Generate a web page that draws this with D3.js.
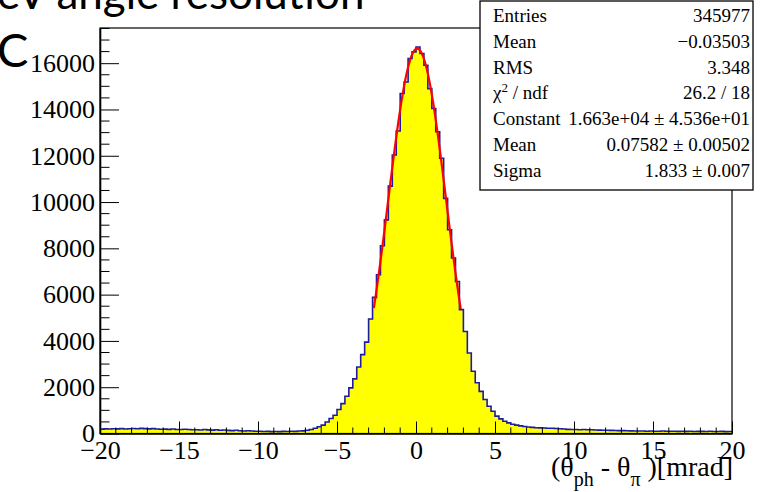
<!DOCTYPE html>
<html><head><meta charset="utf-8">
<script src="https://cdn.jsdelivr.net/npm/d3@7"></script>
<style>body{margin:0;background:#fff;overflow:hidden;} svg{display:block;}</style>
</head><body>
<script>
// ---- data ----
const binRange = [-20, 20];
const binWidth = 0.25;
const leftTail = [190,200,195,205, 200,210,195,205, 215,205,220,210, 200,210,195,185,
  190,180,195,170, 175,185,170,160, 165,150,170,155, 145,160,140,150,
  135,125,140,120, 110,120,105,100, 95,85,90,80, 85,80,90,85, 95,90,105,115, 140,175,230,290];
const core = [360,500,650,790, 1035,1290,1610,1970, 2360,2870,3410,3950, 4950,5880,6860,8110,
  9230,10690,12030,13070, 14690,15190,16200,16490,
  16700,16420,15910,14900, 14040,13040,11890,10160, 8800,7580,6570,5350,
  4410,3480,2690,2190, 1820,1470,1180,960, 750,630,530,460];
const rightTail = [400,360,330,300, 280,265,250,245, 240,230,225,215, 205,195,180,175,
  170,165,175,160, 165,150,145,140, 140,135,130,125, 125,120,115,110,
  110,105,100,105, 100,95,105,95, 95,100,90,95, 90,95,85,90, 90,85,95,85, 85,90,80,85];
const counts = leftTail.concat(core, rightTail);
const xMajorTicks = [-20,-15,-10,-5,0,5,10,15,20];
const yMajorTicks = [0,2000,4000,6000,8000,10000,12000,14000,16000];
const yMax = 17520;
const statLabels = ["Entries","Mean","RMS","χ2 / ndf","Constant","Mean","Sigma"];
const statValues = ["345977","\u22120.03503","3.348","26.2 / 18","1.663e+04 \u00b1 4.536e+01","0.07582 \u00b1 0.00502","1.833 \u00b1 0.007"];
const fitParams = [16630, 0.07582, 1.833]; // constant, mean, sigma
const fitRange = [-2.67, 2.83];

// ---- drawing ----
const W = 761, H = 492;
const svg = d3.select("body").append("svg").attr("width", W).attr("height", H);
const x = d3.scaleLinear().domain(binRange).range([100, 732]);
const y = d3.scaleLinear().domain([0, yMax]).range([433.5, 28]);
const serif = "'Liberation Serif','Times New Roman',serif";

// title fragments (cut off)
svg.append("text").attr("x", -3).attr("y", 9).attr("font-family", "Lato, 'DejaVu Sans', sans-serif")
  .attr("font-size", 44).attr("fill", "#000").text("eV angle resolution");
svg.append("text").attr("x", -3).attr("y", 67).attr("font-family", "Lato, 'DejaVu Sans', sans-serif")
  .attr("font-size", 47).attr("fill", "#000").text("C");

// histogram
const bins = counts.map((c, i) => ({lo: binRange[0] + i * binWidth, hi: binRange[0] + (i + 1) * binWidth, c}));
let p = d3.path();
p.moveTo(x(binRange[0]), y(0));
bins.forEach(b => { p.lineTo(x(b.lo), y(b.c)); p.lineTo(x(b.hi), y(b.c)); });
p.lineTo(x(binRange[1]), y(0));
p.closePath();
svg.append("path").attr("d", p.toString()).attr("fill", "#ffff00").attr("stroke", "none");
let po = d3.path();
po.moveTo(x(binRange[0]), y(bins[0].c));
bins.forEach(b => { po.lineTo(x(b.lo), y(b.c)); po.lineTo(x(b.hi), y(b.c)); });
svg.append("path").attr("d", po.toString()).attr("fill", "none").attr("stroke", "#1c1ca0").attr("stroke-width", 1.6);

// fit curve
const fitX = d3.range(fitRange[0], fitRange[1] + 1e-9, 0.02);
const gauss = v => fitParams[0] * Math.exp(-0.5 * Math.pow((v - fitParams[1]) / fitParams[2], 2));
svg.append("path").datum(fitX)
  .attr("d", d3.line().x(v => x(v)).y(v => y(gauss(v))))
  .attr("fill", "none").attr("stroke", "#ff0000").attr("stroke-width", 2.2);

// frame
svg.append("rect").attr("x", 100).attr("y", 28).attr("width", 632).attr("height", 405.5)
  .attr("fill", "none").attr("stroke", "#000").attr("stroke-width", 1.2);

// x axis
const xMinor = d3.range(-20, 20.001, 1).filter(v => !xMajorTicks.includes(v));
const gx = svg.append("g").attr("transform", `translate(0,${y(0)})`);
gx.call(d3.axisBottom(x).tickValues(xMajorTicks).tickSizeInner(-12).tickSizeOuter(0).tickPadding(7)
  .tickFormat(d3.format("d")));
gx.append("g").selectAll("line").data(xMinor).join("line")
  .attr("x1", d => x(d)).attr("x2", d => x(d)).attr("y1", 0).attr("y2", -6).attr("stroke", "#000");
gx.selectAll("text").attr("font-family", serif).attr("font-size", 26).attr("fill", "#000");
gx.select(".domain").attr("stroke", "#000").attr("stroke-width", 1.6);

// y axis
const yMinor = d3.range(0, yMax, 500).filter(v => !yMajorTicks.includes(v));
const gy = svg.append("g").attr("transform", `translate(${x(binRange[0])},0)`);
gy.call(d3.axisLeft(y).tickValues(yMajorTicks).tickSizeInner(-19).tickSizeOuter(0).tickPadding(5)
  .tickFormat(d3.format("d")));
gy.append("g").selectAll("line").data(yMinor).join("line")
  .attr("y1", d => y(d)).attr("y2", d => y(d)).attr("x1", 0).attr("x2", 9.5).attr("stroke", "#000");
gy.selectAll("text").attr("font-family", serif).attr("font-size", 26).attr("fill", "#000");
gy.select(".domain").attr("stroke", "#000").attr("stroke-width", 1.6);

// x axis title
const xt = svg.append("text").attr("x", 733).attr("y", 476).attr("text-anchor", "end")
  .attr("font-family", serif).attr("font-size", 28).attr("fill", "#000");
xt.append("tspan").text("(\u03b8");
xt.append("tspan").attr("font-size", 20).attr("dy", 10).text("ph");
xt.append("tspan").attr("dy", -10).text(" - \u03b8");
xt.append("tspan").attr("font-size", 20).attr("dy", 10).text("\u03c0");
xt.append("tspan").attr("dy", -10).text(" )[mrad]");

// stats box
const box = svg.append("g");
box.append("rect").attr("x", 480).attr("y", 1).attr("width", 273).attr("height", 189)
  .attr("fill", "#fff").attr("stroke", "#000").attr("stroke-width", 1.3);
statLabels.forEach((l, i) => {
  const ty = 22 + i * 25.8;
  const t = box.append("text").attr("x", 493).attr("y", ty).attr("font-family", serif)
    .attr("font-size", 19).attr("fill", "#000");
  if (l.startsWith("χ2")) {
    t.append("tspan").text("\u03c7");
    t.append("tspan").attr("font-size", 13).attr("dy", -7).text("2");
    t.append("tspan").attr("dy", 7).text(" / ndf");
  } else t.text(l);
  box.append("text").attr("x", 750).attr("y", ty).attr("text-anchor", "end").attr("font-family", serif)
    .attr("font-size", 19).attr("fill", "#000").text(statValues[i]);
});
</script>
</body></html>
